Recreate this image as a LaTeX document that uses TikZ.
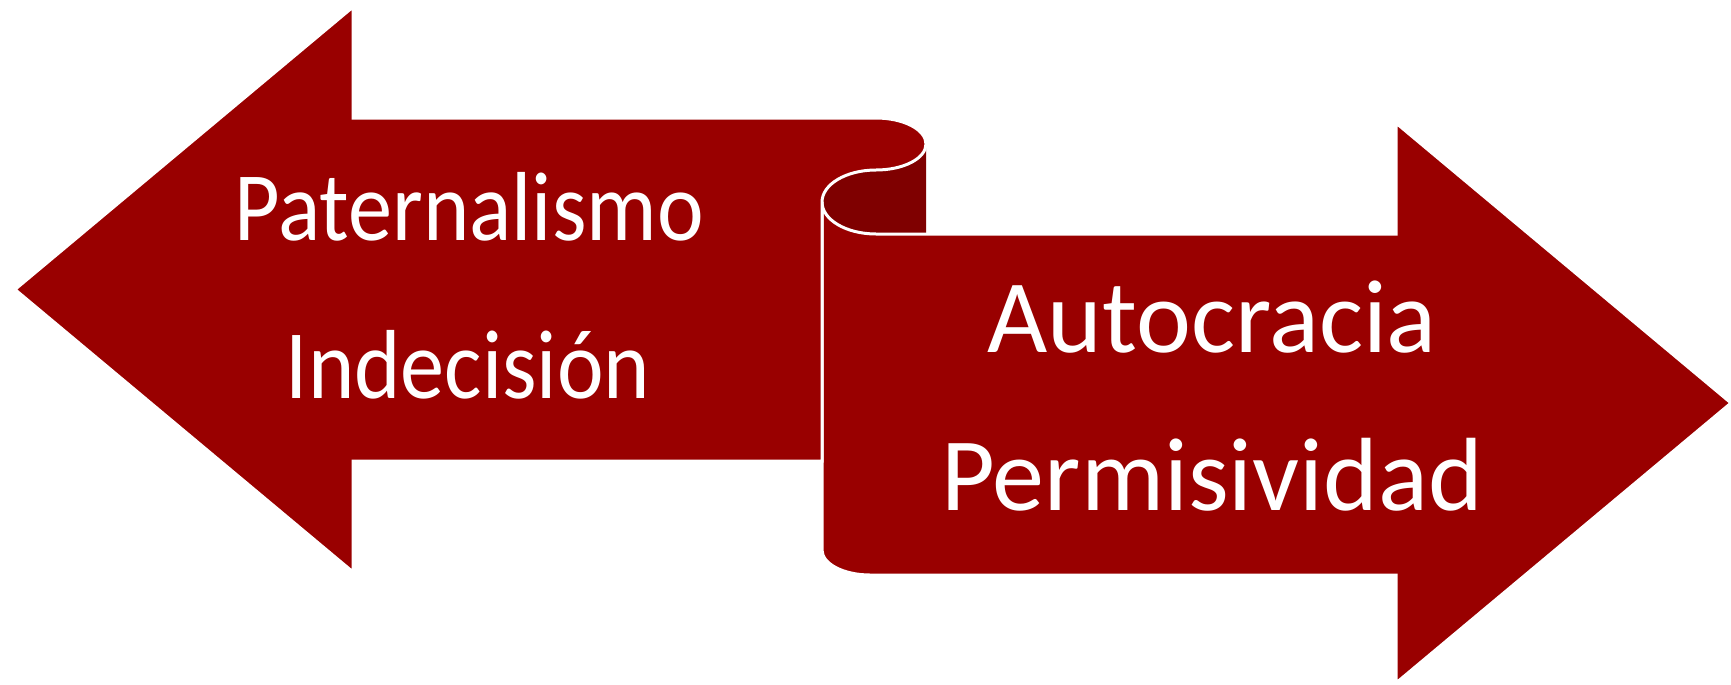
\documentclass[tikz,border=0pt]{standalone}
\usepackage{fontspec}
\usepackage{graphicx}
\setmainfont{Carlito}
\definecolor{arrred}{HTML}{990000}
\definecolor{curldark}{HTML}{7F0000}
\tikzset{
  arrowshape/.style={fill=arrred, draw=white, line width=0.03cm, line join=miter},
  lbl/.style={text=white, inner sep=0pt, anchor=base},
  lefttxt/.style={lbl, font=\fontsize{27.9}{33}\selectfont},
  righttxt/.style={lbl, font=\fontsize{29.6}{35}\selectfont}
}
\newcommand{\narrowtxt}[1]{\scalebox{0.9}[1]{#1}}
\begin{document}
\begin{tikzpicture}[x=0.01cm,y=0.01cm]
\useasboundingbox (0,0) rectangle (1731,684);
% dark inside of the curl
\fill[curldark] (926,540) -- (926,450) -- (876,450)
  arc[start angle=270,end angle=180,x radius=54,y radius=32]
  arc[start angle=180,end angle=90,x radius=54,y radius=32]
  arc[start angle=-90,end angle=0,x radius=50,y radius=26] -- cycle;
% right arrow
\path[arrowshape] (822,482)
  arc[start angle=180,end angle=270,x radius=54,y radius=32]
  -- (1396,450) -- (1396,561) -- (1731,281) -- (1396,1) -- (1396,109) -- (870,109)
  arc[start angle=270,end angle=180,x radius=48,y radius=25] -- cycle;
% left arrow
\path[arrowshape] (15,394.5) -- (353,677) -- (353,566) -- (876,566)
  arc[start angle=90,end angle=-90,x radius=50,y radius=26]
  arc[start angle=90,end angle=180,x radius=54,y radius=32]
  -- (822,223) -- (353,223) -- (353,112) -- cycle;
\node[lefttxt] (t1) at (469,444) {\narrowtxt{Paternalismo}};
\node[lefttxt] (t2) at (468,286) {\narrowtxt{Indecisión}};
\node[righttxt] (t3) at (1212,332) {Autocracia};
\node[righttxt] (t4) at (1212,174) {Permisividad};
\end{tikzpicture}
\end{document}
